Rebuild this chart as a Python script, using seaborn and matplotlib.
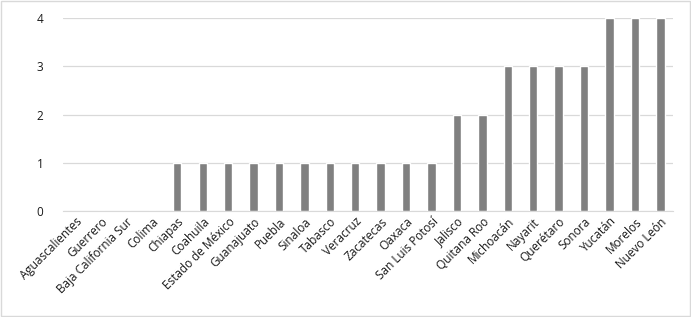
import numpy as np
import pandas as pd
import matplotlib
matplotlib.use("Agg")
import matplotlib.pyplot as plt
import seaborn as sns

estados = ["Aguascalientes", "Guerrero", "Baja California Sur", "Colima", "Chiapas",
           "Coahuila", "Estado de México", "Guanajuato", "Puebla", "Sinaloa", "Tabasco",
           "Veracruz", "Zacatecas", "Oaxaca", "San Luis Potosí", "Jalisco", "Quitana Roo",
           "Michoacán", "Nayarit", "Querétaro", "Sonora", "Yucatán", "Morelos", "Nuevo León"]
valores = [0, 0, 0, 0, 1, 1, 1, 1, 1, 1, 1, 1, 1, 1, 1, 2, 2, 3, 3, 3, 3, 4, 4, 4]
yticks = [0, 1, 2, 3, 4]

df = pd.DataFrame({"estado": estados, "valor": valores})

sns.set_style("white")
plt.rcParams['font.family'] = ['Open Sans', 'DejaVu Sans']

fig = plt.figure(figsize=(6.91, 3.17), dpi=100)
ax = fig.add_axes([0.091, 0.334, 0.883, 0.609])
sns.barplot(data=df, x="estado", y="valor", color="#808080", saturation=1,
            width=0.33, ax=ax, zorder=3)

ax.set_ylim(0, 4)
ax.set_yticks(yticks)
ax.yaxis.grid(True, color="#d9d9d9", linewidth=0.9, zorder=0)
ax.set_axisbelow(True)
for s in ["top", "right", "left"]:
    ax.spines[s].set_visible(False)
ax.spines["bottom"].set_color("#d9d9d9")
ax.set_xlabel("")
ax.set_ylabel("")
ax.tick_params(axis="y", length=0, pad=14, labelsize=8.5, labelcolor="#1a1a1a")
ax.tick_params(axis="x", length=0, pad=3, labelsize=8.5, labelcolor="#1a1a1a")
plt.setp(ax.get_xticklabels(), rotation=45, ha="right", rotation_mode="anchor")

# borde de la figura
fig.patches.append(plt.Rectangle((0.001, 0.002), 0.997, 0.995, transform=fig.transFigure,
                                 fill=False, edgecolor="#d9d9d9", linewidth=1))

fig.savefig("out.png", dpi=100)
